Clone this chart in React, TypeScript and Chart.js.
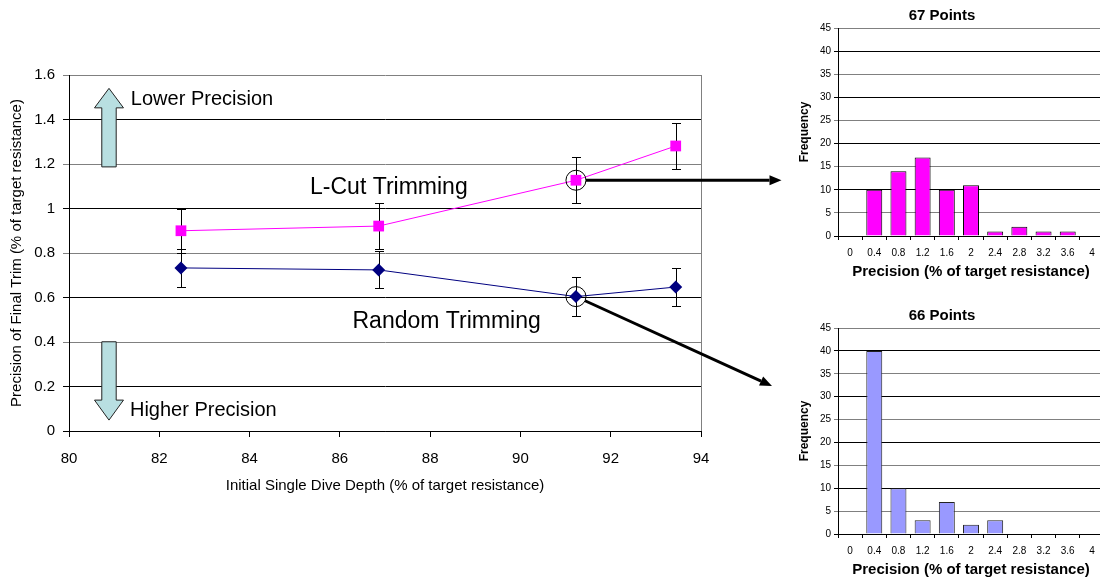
import React, { useEffect, useRef } from 'react';
import { Chart, registerables } from 'chart.js';

Chart.register(...registerables);

const FONT = "'Liberation Sans', Arial, Helvetica, sans-serif";
Chart.defaults.font.family = FONT;

// ---- Main chart data ----
const X_TICK_MIN = 80;
const X_TICK_MAX = 94;
const Y_TICK_MAX = 1.6;

const LCUT_X = [82.48, 86.86, 91.23, 93.44];
const LCUT_Y = [0.9, 0.921, 1.127, 1.281];
const LCUT_ERR = [0.1, 0.104, 0.103, 0.105];

const RANDOM_X = [82.48, 86.86, 91.23, 93.44];
const RANDOM_Y = [0.733, 0.724, 0.604, 0.647];
const RANDOM_ERR = [0.085, 0.083, 0.088, 0.086];

// ---- Histogram data ----
const BIN_LABELS = ['0', '0.4', '0.8', '1.2', '1.6', '2', '2.4', '2.8', '3.2', '3.6', '4'];
const LCUT_FREQ = [0, 10, 14, 17, 10, 11, 1, 2, 1, 1, 0];
const RANDOM_FREQ = [0, 40, 10, 3, 7, 2, 3, 0, 0, 0, 0];

function blockArrow(ctx: CanvasRenderingContext2D, cx: number, tipY: number, headY: number, endY: number, shaftHalf: number, headHalf: number) {
  ctx.beginPath();
  ctx.moveTo(cx, tipY);
  ctx.lineTo(cx + headHalf, headY);
  ctx.lineTo(cx + shaftHalf, headY);
  ctx.lineTo(cx + shaftHalf, endY);
  ctx.lineTo(cx - shaftHalf, endY);
  ctx.lineTo(cx - shaftHalf, headY);
  ctx.lineTo(cx - headHalf, headY);
  ctx.closePath();
  ctx.fillStyle = '#B8DFE1';
  ctx.fill();
  ctx.strokeStyle = '#222';
  ctx.lineWidth = 1;
  ctx.stroke();
}

function connector(ctx: CanvasRenderingContext2D, x0: number, y0: number, x1: number, y1: number, r: number) {
  const dx = x1 - x0;
  const dy = y1 - y0;
  const len = Math.hypot(dx, dy);
  const ux = dx / len;
  const uy = dy / len;
  const sx = x0 + ux * r;
  const sy = y0 + uy * r;
  const head = 12;
  const hw = 5;
  const bx = x1 - ux * head;
  const by = y1 - uy * head;
  ctx.strokeStyle = '#000';
  ctx.lineWidth = 3;
  ctx.beginPath();
  ctx.moveTo(sx, sy);
  ctx.lineTo(bx, by);
  ctx.stroke();
  ctx.fillStyle = '#000';
  ctx.beginPath();
  ctx.moveTo(x1, y1);
  ctx.lineTo(bx - uy * hw, by + ux * hw);
  ctx.lineTo(bx + uy * hw, by - ux * hw);
  ctx.closePath();
  ctx.fill();
}

const mainPlugin = {
  id: 'mainAnnotations',
  beforeDatasetsDraw(chart: any) {
    const { ctx, chartArea, scales } = chart;
    const xs = scales.x;
    const ys = scales.y;
    ctx.save();
    // right border of plot area
    const rx = Math.round(chartArea.right) + 0.5;
    ctx.strokeStyle = '#808080';
    ctx.lineWidth = 1;
    ctx.beginPath();
    ctx.moveTo(rx, chartArea.top);
    ctx.lineTo(rx, chartArea.bottom);
    ctx.stroke();
    // error bars
    const series: [number[], number[], number[]][] = [
      [LCUT_X, LCUT_Y, LCUT_ERR],
      [RANDOM_X, RANDOM_Y, RANDOM_ERR],
    ];
    ctx.strokeStyle = '#000';
    ctx.lineWidth = 1;
    for (const [sx, sy, se] of series) {
      for (let i = 0; i < sx.length; i++) {
        const px = Math.round(xs.getPixelForValue(sx[i])) + 0.5;
        const t = Math.round(ys.getPixelForValue(sy[i] + se[i])) + 0.5;
        const b = Math.round(ys.getPixelForValue(sy[i] - se[i])) + 0.5;
        ctx.beginPath();
        ctx.moveTo(px, t);
        ctx.lineTo(px, b);
        ctx.moveTo(px - 4.5, t);
        ctx.lineTo(px + 4.5, t);
        ctx.moveTo(px - 4.5, b);
        ctx.lineTo(px + 4.5, b);
        ctx.stroke();
      }
    }
    // block arrows
    const ax = xs.getPixelForValue(80.886);
    const upTip = ys.getPixelForValue(1.54);
    const upEnd = ys.getPixelForValue(1.187);
    blockArrow(ctx, ax, upTip, upTip + 19.5, upEnd, 7.2, 14.5);
    const dnTip = ys.getPixelForValue(0.049);
    const dnEnd = ys.getPixelForValue(0.401);
    blockArrow(ctx, ax, dnTip, dnTip - 20, dnEnd, 7.2, 14.5);
    // text labels
    ctx.fillStyle = '#000';
    ctx.textAlign = 'left';
    ctx.textBaseline = 'middle';
    ctx.font = `20px ${FONT}`;
    ctx.fillText('Lower Precision', xs.getPixelForValue(81.37), ys.getPixelForValue(1.492));
    ctx.fillText('Higher Precision', xs.getPixelForValue(81.35), ys.getPixelForValue(0.094));
    ctx.font = `23px ${FONT}`;
    ctx.fillText('L-Cut Trimming', xs.getPixelForValue(85.34), ys.getPixelForValue(1.092));
    ctx.fillText('Random Trimming', xs.getPixelForValue(86.28), ys.getPixelForValue(0.49));
    ctx.restore();
  },
  afterDatasetsDraw(chart: any) {
    const { ctx, scales } = chart;
    const xs = scales.x;
    const ys = scales.y;
    ctx.save();
    const p1x = xs.getPixelForValue(LCUT_X[2]);
    const p1y = ys.getPixelForValue(LCUT_Y[2]);
    const p2x = xs.getPixelForValue(RANDOM_X[2]);
    const p2y = ys.getPixelForValue(RANDOM_Y[2]);
    ctx.strokeStyle = '#000';
    ctx.lineWidth = 1;
    ctx.beginPath();
    ctx.arc(p1x, p1y, 10, 0, Math.PI * 2);
    ctx.stroke();
    ctx.beginPath();
    ctx.arc(p2x, p2y, 10, 0, Math.PI * 2);
    ctx.stroke();
    connector(ctx, p1x, p1y, 781.5, p1y, 10);
    connector(ctx, p2x, p2y, 772, 386, 10);
    ctx.restore();
  },
};

function makeHist(canvas: HTMLCanvasElement, freq: number[], title: string, color: string, border: string) {
  return new Chart(canvas, {
    type: 'bar',
    data: {
      labels: BIN_LABELS,
      datasets: [
        {
          data: freq,
          backgroundColor: color,
          borderColor: border,
          borderWidth: 1,
          barPercentage: 0.66,
          categoryPercentage: 1,
        },
      ],
    },
    options: {
      animation: false,
      responsive: false,
      devicePixelRatio: 1,
      layout: { padding: 0 },
      plugins: {
        legend: { display: false },
        tooltip: { enabled: false },
        title: {
          display: true,
          text: title,
          color: '#000',
          font: { family: FONT, size: 15, weight: 'bold' },
          padding: { top: 7, bottom: 3 },
        },
      },
      scales: {
        x: {
          offset: true,
          grid: { display: true, drawOnChartArea: false, drawTicks: true, tickLength: 4, color: '#000', offset: true },
          border: { display: true, color: '#000' },
          ticks: { font: { family: FONT, size: 10 }, color: '#000', padding: 7, maxRotation: 0, autoSkip: false },
          title: {
            display: true,
            text: 'Precision (% of target resistance)',
            color: '#000',
            font: { family: FONT, size: 15, weight: 'bold' },
            padding: { top: 0, bottom: 9 },
          },
          afterFit: (s: any) => {
            s.height = 54;
          },
        },
        y: {
          min: 0,
          max: 45,
          ticks: { stepSize: 5, font: { family: FONT, size: 10 }, color: '#000', padding: 3 },
          grid: { color: (c: any) => (c.index % 2 === 1 ? '#808080' : '#000'), tickLength: 4 },
          border: { display: true, color: '#000' },
          title: {
            display: true,
            text: 'Frequency',
            color: '#000',
            font: { family: FONT, size: 12, weight: 'bold' },
            padding: { top: 17, bottom: 0 },
          },
          afterFit: (s: any) => {
            s.width = 58;
          },
        },
      },
    },
  } as any);
}

export default function App() {
  const mainRef = useRef<HTMLCanvasElement>(null);
  const topRef = useRef<HTMLCanvasElement>(null);
  const botRef = useRef<HTMLCanvasElement>(null);

  useEffect(() => {
    const main = new Chart(mainRef.current as HTMLCanvasElement, {
      type: 'scatter',
      data: {
        datasets: [
          {
            label: 'L-Cut Trimming',
            data: LCUT_X.map((x, i) => ({ x, y: LCUT_Y[i] })),
            showLine: true,
            borderColor: '#FF00FF',
            backgroundColor: '#FF00FF',
            borderWidth: 1,
            pointStyle: 'rect',
            pointRadius: 7.6,
            pointBorderWidth: 0,
          },
          {
            label: 'Random Trimming',
            data: RANDOM_X.map((x, i) => ({ x, y: RANDOM_Y[i] })),
            showLine: true,
            borderColor: '#000080',
            backgroundColor: '#000080',
            borderWidth: 1,
            pointStyle: 'rectRot',
            pointRadius: 6.5,
            pointBorderWidth: 0,
          },
        ],
      },
      options: {
        animation: false,
        responsive: false,
        devicePixelRatio: 1,
        layout: { padding: { left: 0, top: 75, right: 89, bottom: 81 } },
        plugins: { legend: { display: false }, tooltip: { enabled: false } },
        scales: {
          x: {
            type: 'linear',
            min: X_TICK_MIN,
            max: X_TICK_MAX,
            ticks: { stepSize: 2, font: { family: FONT, size: 15 }, color: '#000', padding: 13 },
            grid: { drawOnChartArea: false, drawTicks: true, tickLength: 6, color: '#000' },
            border: { display: true, color: '#000' },
            title: {
              display: true,
              text: 'Initial Single Dive Depth (% of target resistance)',
              color: '#000',
              font: { family: FONT, size: 15 },
              padding: { top: 0, bottom: 6 },
            },
            afterFit: (s: any) => {
              s.height = 70;
            },
          },
          y: {
            min: 0,
            max: Y_TICK_MAX,
            ticks: {
              stepSize: 0.2,
              font: { family: FONT, size: 15 },
              color: '#000',
              padding: 8,
              callback: (v: any) => String(Math.round(Number(v) * 10) / 10),
            },
            grid: {
              color: (c: any) => (c.index % 2 === 0 && c.index !== 0 ? '#808080' : '#000'),
              tickLength: 6,
            },
            border: { display: true, color: '#000' },
            title: {
              display: true,
              text: 'Precision of Final Trim (% of target resistance)',
              color: '#000',
              font: { family: FONT, size: 15 },
              padding: { top: 8, bottom: 0 },
            },
            afterFit: (s: any) => {
              s.width = 69;
            },
          },
        },
      },
      plugins: [mainPlugin],
    } as any);

    const top = makeHist(topRef.current as HTMLCanvasElement, LCUT_FREQ, '67 Points', '#FF00FF', '#000');
    const bot = makeHist(botRef.current as HTMLCanvasElement, RANDOM_FREQ, '66 Points', '#9999FF', '#222');

    return () => {
      main.destroy();
      top.destroy();
      bot.destroy();
    };
  }, []);

  return (
    <div
      style={{
        position: 'absolute',
        left: 0,
        top: 0,
        width: 1100,
        height: 582,
        overflow: 'hidden',
        background: '#fff',
      }}
    >
      <canvas ref={topRef} width={324} height={290} style={{ position: 'absolute', left: 780, top: 0 }} />
      <canvas ref={botRef} width={324} height={288} style={{ position: 'absolute', left: 780, top: 300 }} />
      <canvas ref={mainRef} width={790} height={582} style={{ position: 'absolute', left: 0, top: 0 }} />
    </div>
  );
}
